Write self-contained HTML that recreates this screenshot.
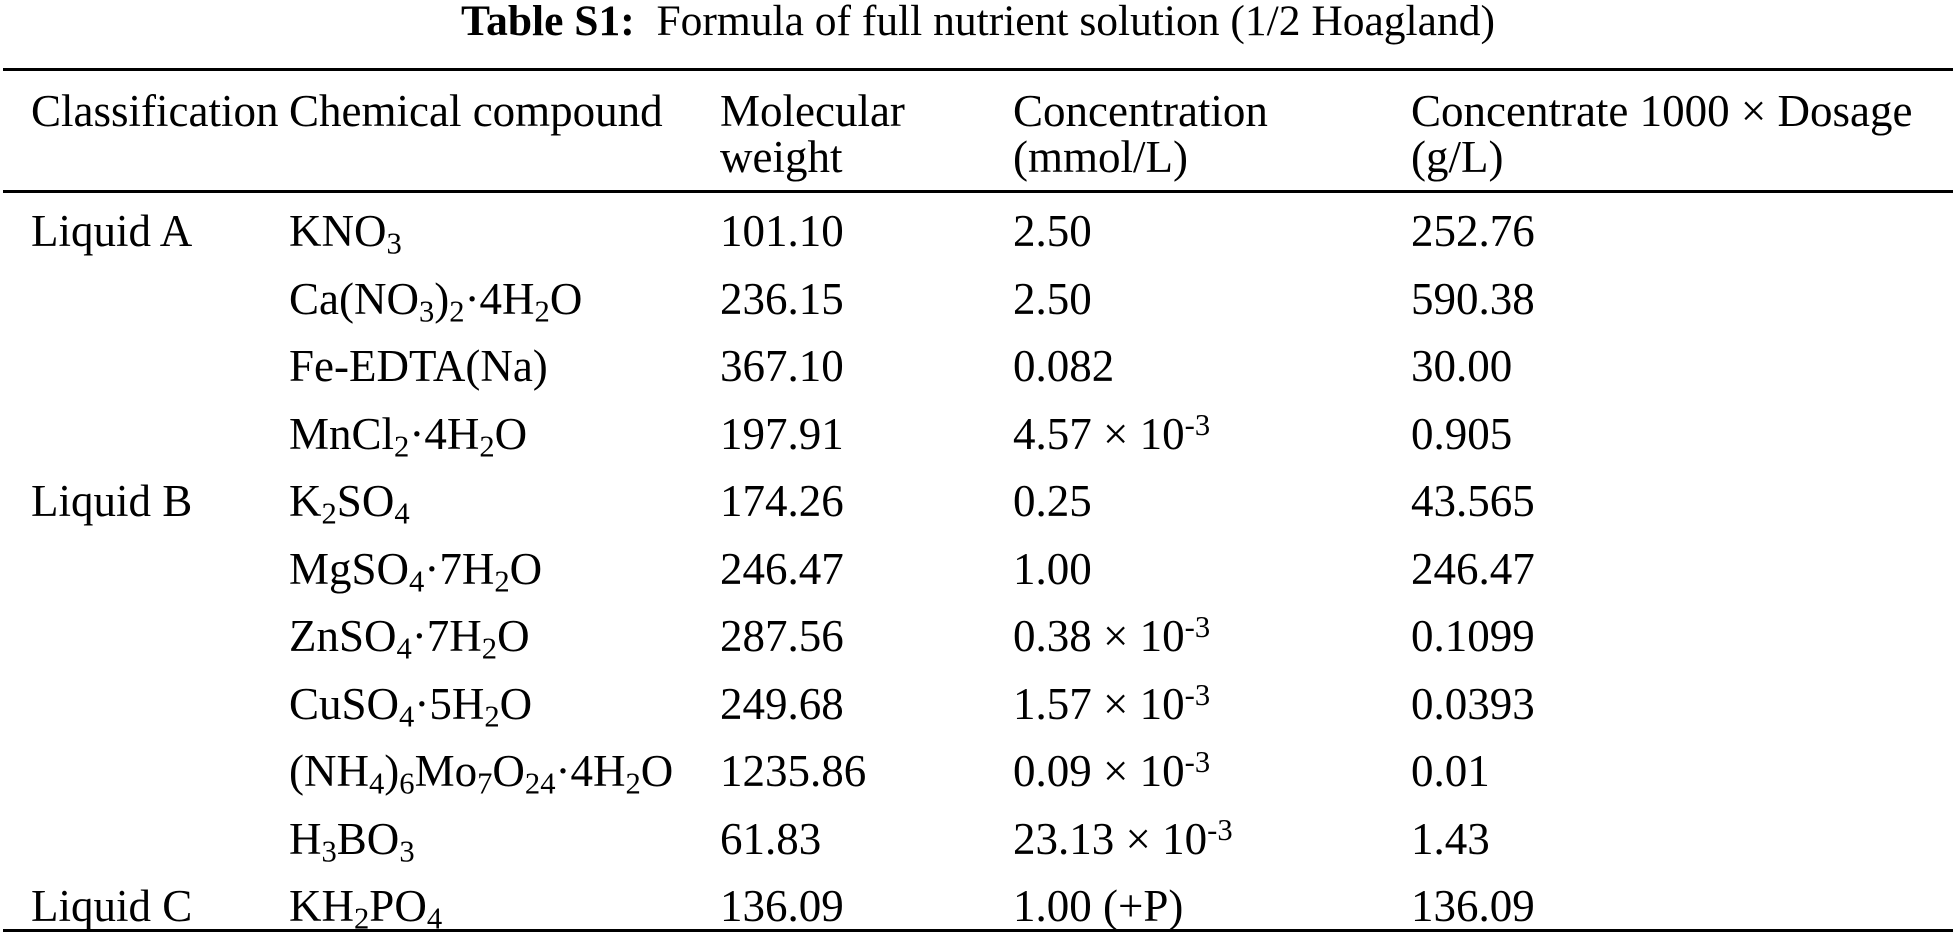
<!DOCTYPE html>
<html><head><meta charset="utf-8"><style>
html,body{margin:0;padding:0;background:#fff;}
body{width:1956px;height:935px;position:relative;overflow:hidden;font-family:"Liberation Serif",serif;color:#000;font-size:45px;}
.t{position:absolute;white-space:nowrap;line-height:1;}
.r{position:absolute;left:3px;width:1950px;background:#000;}
sub{font-size:0.68em;vertical-align:-0.25em;line-height:0;}
sup{font-size:0.68em;vertical-align:0.45em;line-height:0;}
</style></head><body>
<div class="t" style="left:0;width:1956px;text-align:center;top:0px;font-size:43.5px;"><b>Table S1:</b>&nbsp; Formula of full nutrient solution (1/2 Hoagland)</div>
<div class="r" style="top:68px;height:3px;"></div>
<div class="r" style="top:190px;height:3px;"></div>
<div class="r" style="top:929px;height:3px;"></div>

<div class="t" style="left:31px;top:89px;">Classification</div>
<div class="t" style="left:289px;top:89px;">Chemical compound</div>
<div class="t" style="left:720px;top:89px;">Molecular</div>
<div class="t" style="left:720px;top:135px;">weight</div>
<div class="t" style="left:1013px;top:89px;">Concentration</div>
<div class="t" style="left:1013px;top:135px;">(mmol/L)</div>
<div class="t" style="left:1411px;top:89px;">Concentrate 1000 × Dosage</div>
<div class="t" style="left:1411px;top:135px;">(g/L)</div>

<div id="rows"></div>
<script>
const rows=[
["Liquid A","KNO<sub>3</sub>","101.10","2.50","252.76"],
["","Ca(NO<sub>3</sub>)<sub>2</sub>·4H<sub>2</sub>O","236.15","2.50","590.38"],
["","Fe-EDTA(Na)","367.10","0.082","30.00"],
["","MnCl<sub>2</sub>·4H<sub>2</sub>O","197.91","4.57 × 10<sup>-3</sup>","0.905"],
["Liquid B","K<sub>2</sub>SO<sub>4</sub>","174.26","0.25","43.565"],
["","MgSO<sub>4</sub>·7H<sub>2</sub>O","246.47","1.00","246.47"],
["","ZnSO<sub>4</sub>·7H<sub>2</sub>O","287.56","0.38 × 10<sup>-3</sup>","0.1099"],
["","CuSO<sub>4</sub>·5H<sub>2</sub>O","249.68","1.57 × 10<sup>-3</sup>","0.0393"],
["","(NH<sub>4</sub>)<sub>6</sub>Mo<sub>7</sub>O<sub>24</sub>·4H<sub>2</sub>O","1235.86","0.09 × 10<sup>-3</sup>","0.01"],
["","H<sub>3</sub>BO<sub>3</sub>","61.83","23.13 × 10<sup>-3</sup>","1.43"],
["Liquid C","KH<sub>2</sub>PO<sub>4</sub>","136.09","1.00 (+P)","136.09"]];
const xs=[31,289,720,1013,1411];let h="";
rows.forEach((r,i)=>{const top=209+i*67.5;r.forEach((c,j)=>{if(c)h+=`<div class="t" style="left:${xs[j]}px;top:${top}px;">${c}</div>`;});});
document.getElementById("rows").innerHTML=h;
</script>
</body></html>
